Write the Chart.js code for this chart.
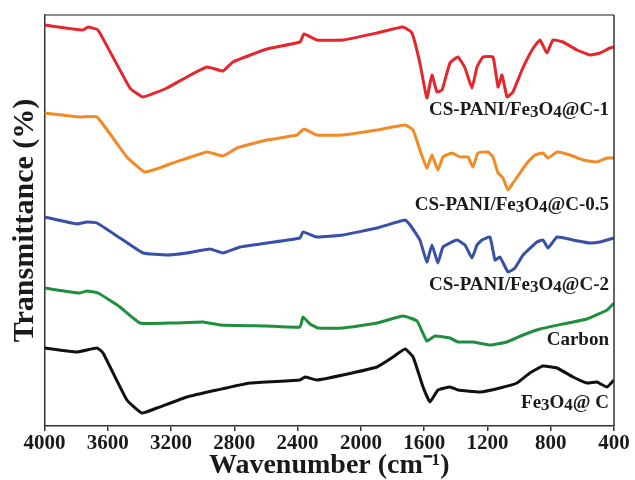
<!DOCTYPE html>
<html>
<head>
<meta charset="utf-8">
<script src="https://cdn.jsdelivr.net/npm/chart.js@4.4.1/dist/chart.umd.min.js"></script>
<style>
  html, body { margin: 0; padding: 0; background: #ffffff; }
  #wrap { width: 635px; height: 480px; position: relative; }
</style>
</head>
<body>
<div id="wrap"><canvas id="ftir"></canvas></div>
<script>
// FTIR spectra, wavenumber (cm-1) vs transmittance (arbitrary offset units)
const tickValues = [4000, 3600, 3200, 2800, 2400, 2000, 1600, 1200, 800, 400];

const seriesNames = ['CS-PANI/Fe_3O_4@C-1', 'CS-PANI/Fe_3O_4@C-0.5', 'CS-PANI/Fe_3O_4@C-2', 'Carbon', 'Fe_3O_4@ C'];
const seriesColors = ['#e5262d', '#f28a25', '#3850a8', '#1f8f3f', '#111111'];
const labelLevels = [316, 221, 141, 86, 23];

const waveC1 = [4000,3757,3725,3662,3460,3377,3226,3100,2973,2872,2809,2594,2385,2360,2278,2114,1898,1734,1677,1627,1583,1551,1519,1487,1437,1386,1342,1298,1266,1228,1165,1133,1108,1076,1039,982,918,868,824,786,723,634,552,489,425,400];
const transC1 = [401,396,399,396,338,329,338,349,359,355,364,377,384,392,386,386,393,399,393,363,328,351,334,336,363,369,358,338,359,369,369,339,351,329,334,356,376,386,373,386,384,376,371,373,378,379];

const waveC05 = [4000,3776,3668,3479,3365,3188,2973,2872,2783,2594,2404,2360,2278,2114,1898,1721,1670,1627,1583,1551,1513,1481,1424,1374,1323,1292,1260,1197,1165,1133,1102,1070,1039,994,950,899,849,817,760,678,596,508,444,400];
const transC05 = [313,309,309,269,254,263,274,270,278,286,291,297,291,291,296,301,296,276,258,271,256,269,273,269,269,259,273,274,269,253,248,236,243,253,263,271,273,268,274,271,266,264,268,268];

const waveC2 = [4000,3795,3731,3668,3523,3377,3226,3100,2954,2872,2764,2594,2385,2366,2278,2114,1898,1721,1689,1627,1583,1551,1513,1481,1393,1342,1298,1266,1234,1184,1152,1121,1070,1026,975,887,849,817,760,659,552,489,400];
const transC2 = [209,202,204,203,188,173,171,173,177,173,179,183,188,194,189,191,198,206,201,186,164,181,163,179,186,181,168,181,186,189,166,169,154,158,171,184,186,178,189,186,183,184,188];

const waveCarbon = [4000,3776,3731,3662,3523,3396,3188,2998,2891,2594,2385,2366,2322,2271,2114,1898,1734,1645,1583,1532,1437,1386,1292,1184,1077,975,868,723,571,444,400];
const transCarbon = [138,133,135,133,119,103,103,104,101,100,99,109,102,98,98,103,110,105,85,90,88,84,84,81,84,91,97,102,107,116,123];

const waveFeC = [4000,3795,3668,3630,3479,3384,3289,3100,2910,2701,2385,2353,2278,2114,1898,1797,1721,1670,1607,1563,1513,1437,1386,1247,1121,1014,932,849,760,659,571,508,444,400];
const transFeC = [78,74,78,73,26,13,18,29,36,43,46,49,46,51,59,69,77,69,39,24,36,39,36,34,38,43,53,60,58,49,43,44,39,46];

const waves = [waveC1, waveC05, waveC2, waveCarbon, waveFeC];
const trans = [transC1, transC05, transC2, transCarbon, transFeC];

const SERIF = '"Liberation Serif", "Times New Roman", serif';
const INK = '#1a1a1a';

const datasets = seriesNames.map((name, i) => ({
  label: name.replace(/_/g, ''),
  data: waves[i].map((w, k) => ({ x: w, y: trans[i][k] })),
  borderColor: seriesColors[i],
  backgroundColor: seriesColors[i],
  borderWidth: 3,
  pointRadius: 0,
  tension: 0.12,
  fill: false
}));

// split "Fe_3O_4" style names into normal and subscript runs
function runsOf(text) {
  const runs = [];
  let buf = '';
  for (let i = 0; i < text.length; i++) {
    if (text[i] === '_' && i + 1 < text.length) {
      if (buf) runs.push({ t: buf, sub: false });
      buf = '';
      runs.push({ t: text[i + 1], sub: true });
      i++;
    } else {
      buf += text[i];
    }
  }
  if (buf) runs.push({ t: buf, sub: false });
  return runs;
}

const seriesLabels = {
  id: 'seriesLabels',
  afterDatasetsDraw(chart) {
    const { ctx, chartArea, scales } = chart;
    ctx.save();
    ctx.fillStyle = INK;
    ctx.textBaseline = 'middle';
    ctx.textAlign = 'left';
    seriesNames.forEach((name, i) => {
      const runs = runsOf(name);
      let total = 0;
      runs.forEach(r => {
        ctx.font = 'bold ' + (r.sub ? 17 : 19) + 'px ' + SERIF;
        r.w = ctx.measureText(r.t).width;
        total += r.w;
      });
      let x = chartArea.right - 5 - total;
      const y = scales.y.getPixelForValue(labelLevels[i]);
      runs.forEach(r => {
        ctx.font = 'bold ' + (r.sub ? 17 : 19) + 'px ' + SERIF;
        ctx.fillText(r.t, x, y + (r.sub ? 3 : 0));
        x += r.w;
      });
    });
    ctx.restore();
  }
};

// closes the plot box on the top and right sides
const frame = {
  id: 'frame',
  afterDraw(chart) {
    const { ctx, chartArea: a } = chart;
    ctx.save();
    ctx.lineWidth = 1.5;
    ctx.strokeStyle = '#666666';
    ctx.beginPath();
    ctx.moveTo(a.left, a.top);
    ctx.lineTo(a.right, a.top);
    ctx.stroke();
    ctx.strokeStyle = '#333333';
    ctx.beginPath();
    ctx.moveTo(a.right, a.top);
    ctx.lineTo(a.right, a.bottom);
    ctx.stroke();
    ctx.restore();
  }
};

new Chart(document.getElementById('ftir'), {
  type: 'line',
  data: { datasets },
  options: {
    responsive: true,
    maintainAspectRatio: false,
    animation: false,
    events: [],
    layout: { padding: { top: 15, left: 0, right: 21, bottom: 0 } },
    plugins: { legend: { display: false }, tooltip: { enabled: false } },
    scales: {
      x: {
        type: 'linear',
        reverse: true,
        min: 400,
        max: 4000,
        afterBuildTicks: (scale) => { scale.ticks = tickValues.map(v => ({ value: v })); },
        afterFit: (scale) => { scale.height = 54; },
        ticks: {
          autoSkip: false,
          maxRotation: 0,
          padding: 0,
          color: INK,
          font: { family: SERIF, size: 21, weight: 'bold' },
          callback: (v) => String(v)
        },
        grid: { drawOnChartArea: false, drawTicks: true, tickLength: 5, color: '#333333', lineWidth: 1.5 },
        border: { display: true, color: '#333333', width: 1.5 },
        title: {
          display: true,
          text: 'Wavenumber (cm\u207B\u00B9)',
          color: INK,
          font: { family: SERIF, size: 28, weight: 'bold', lineHeight: 1.0 },
          padding: { top: 0, bottom: 0 }
        }
      },
      y: {
        type: 'linear',
        min: 0,
        max: 411,
        afterFit: (scale) => { scale.width = 44.5; },
        ticks: { display: false },
        grid: { display: false, drawTicks: false },
        border: { display: true, color: '#333333', width: 1.5 },
        title: {
          display: true,
          text: 'Transmittance (%)',
          color: INK,
          font: { family: SERIF, size: 30, weight: 'bold', lineHeight: 1.2 },
          padding: { top: 7, bottom: 0 }
        }
      }
    }
  },
  plugins: [seriesLabels, frame]
});
</script>
</body>
</html>
